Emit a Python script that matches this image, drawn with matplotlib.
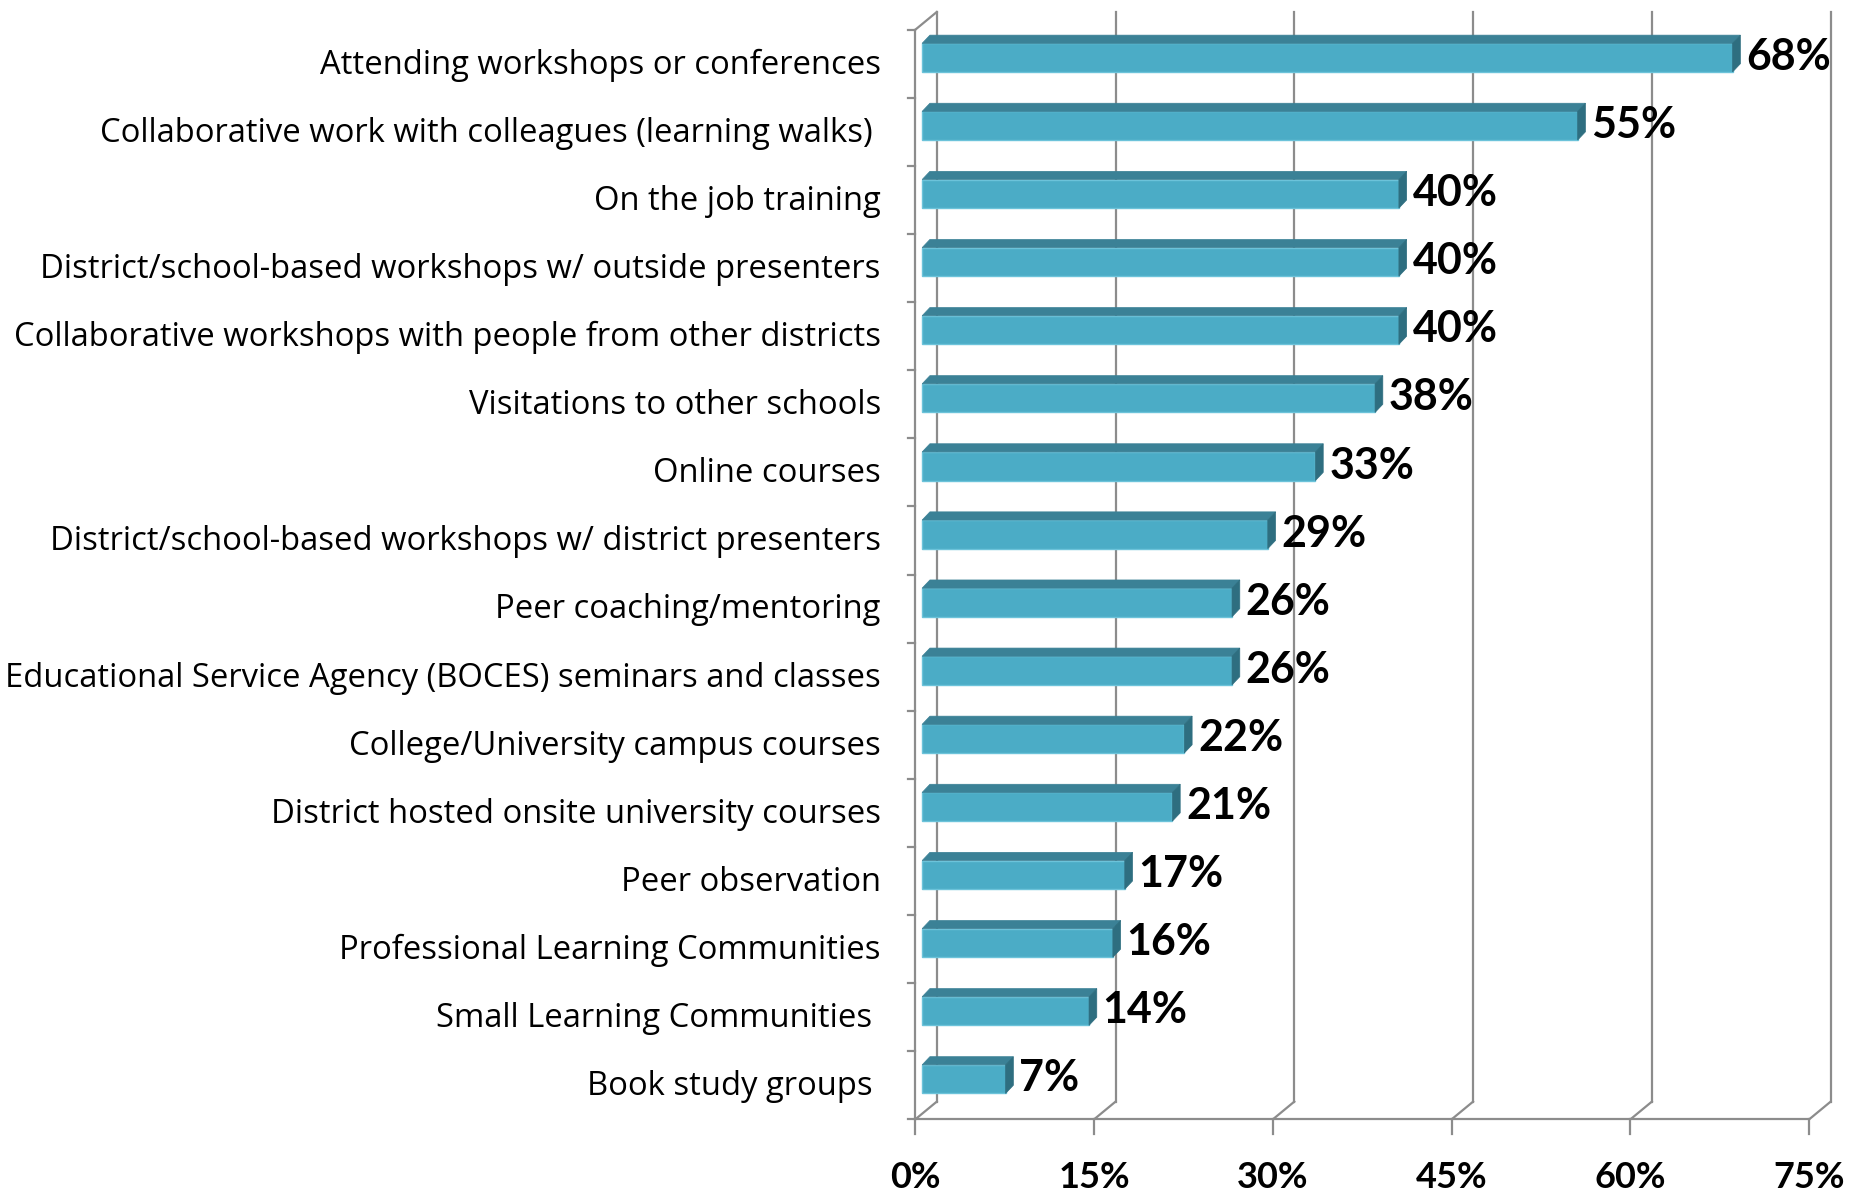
import matplotlib.pyplot as plt
from matplotlib.patches import Polygon
import numpy as np

# data
categories = [
    "Attending workshops or conferences",
    "Collaborative work with colleagues (learning walks) ",
    "On the job training",
    "District/school-based workshops w/ outside presenters",
    "Collaborative workshops with people from other districts",
    "Visitations to other schools",
    "Online courses",
    "District/school-based workshops w/ district presenters",
    "Peer coaching/mentoring",
    "Educational Service Agency (BOCES) seminars and classes",
    "College/University campus courses",
    "District hosted onsite university courses",
    "Peer observation",
    "Professional Learning Communities",
    "Small Learning Communities ",
    "Book study groups ",
]
values = [68, 55, 40, 40, 40, 38, 33, 29, 26, 26, 22, 21, 17, 16, 14, 7]
ticks = [0, 15, 30, 45, 60, 75]
tick_labels = ["0%", "15%", "30%", "45%", "60%", "75%"]

# 3d look: depth of the walls and of the bars (data units)
wall_dx, wall_dy = 1.8, 0.26
bar_dx, bar_dy = 0.65, 0.12
off_x = (wall_dx - bar_dx) / 2
off_y = (wall_dy - bar_dy) / 2

front = "#4BACC6"
top = "#3B8196"
side = "#2E6E80"
grid = "#8C8C8C"

fig = plt.figure(figsize=(18.64, 11.92), dpi=100)
ax = fig.add_axes([0, 0, 1, 1])
ax.set_xlim(-76.8, 79.6)
ax.set_ylim(16.567, -0.936)
ax.axis("off")

n = len(categories)
y_top, y_floor = -0.5, n - 0.5

# back wall gridlines + floor
for t in ticks:
    ax.plot([t + wall_dx, t + wall_dx], [y_floor - wall_dy, y_top - wall_dy], color=grid, lw=1.6, zorder=1)
    ax.plot([t, t + wall_dx], [y_floor, y_floor - wall_dy], color=grid, lw=1.6, zorder=1)
    ax.plot([t, t], [y_floor, y_floor + 0.22], color=grid, lw=1.6, zorder=1)
ax.plot([0, ticks[-1]], [y_floor, y_floor], color=grid, lw=1.6, zorder=1)

# left wall
ax.plot([0, 0], [y_floor, y_top], color=grid, lw=1.6, zorder=1)
ax.plot([0, wall_dx], [y_top, y_top - wall_dy], color=grid, lw=1.6, zorder=1)
for k in range(n + 1):
    ax.plot([-0.6, 0], [k - 0.5, k - 0.5], color=grid, lw=1.6, zorder=1)

# bars
y = np.arange(n)
h = 0.42
for i, v in enumerate(values):
    x0 = off_x
    x1 = v + off_x
    yt = y[i] - off_y - h / 2 - 0.02
    yb = yt + h
    ax.add_patch(Polygon([(x0, yb), (x1, yb), (x1, yt), (x0, yt)], closed=True,
                         facecolor=front, edgecolor="#6CC3DA", lw=1, zorder=3))
    ax.add_patch(Polygon([(x0, yt), (x1, yt), (x1 + bar_dx, yt - bar_dy), (x0 + bar_dx, yt - bar_dy)],
                         closed=True, facecolor=top, edgecolor=top, lw=0.5, zorder=3))
    ax.add_patch(Polygon([(x1, yt), (x1 + bar_dx, yt - bar_dy), (x1 + bar_dx, yb - bar_dy), (x1, yb)],
                         closed=True, facecolor=side, edgecolor=side, lw=0.5, zorder=3))
    ax.text(x1 + bar_dx + 0.5, y[i] - 0.1, f"{v}%", fontsize=31, fontweight="bold",
            family="Lato", ha="left", va="center", zorder=4)
    ax.text(-2.9, y[i] + 0.02, categories[i], fontsize=23.6, family="Open Sans", ha="right", va="center")

for t, lab in zip(ticks, tick_labels):
    ax.text(t, 16.35, lab, fontsize=26, fontweight="bold", family="Lato", ha="center", va="center")

fig.savefig("out.png", dpi=100)
